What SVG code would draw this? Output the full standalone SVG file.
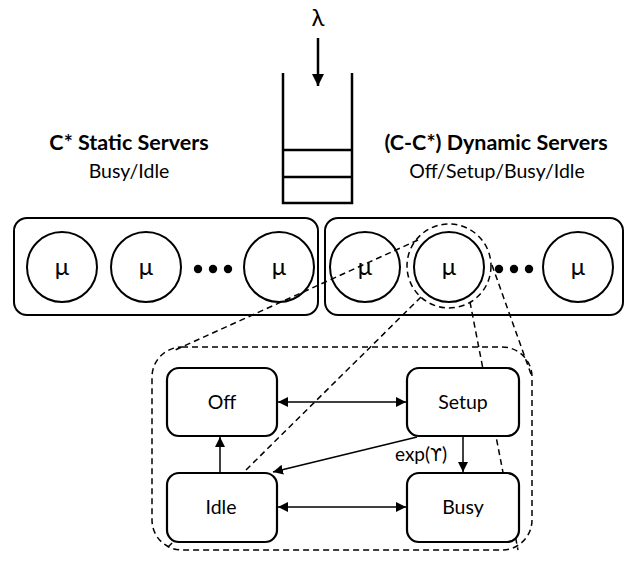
<svg xmlns="http://www.w3.org/2000/svg" width="631" height="561" viewBox="0 0 631 561">
  <style>
    .txt { font-family: Lato, "Liberation Sans", sans-serif; fill: #000; text-anchor: middle; }
    .title { font-size: 21.5px; font-weight: bold; }
    .sub { font-size: 19.5px; }
    .mu { font-size: 24px; }
    .state { font-size: 19.5px; }
    .box { fill: none; stroke: #000; stroke-width: 2; }
    .srv { fill: none; stroke: #000; stroke-width: 2; }
    .stbox { fill: #fff; stroke: #000; stroke-width: 2.2; }
    .dash { fill: none; stroke: #000; stroke-width: 1.5; stroke-dasharray: 6 4; }
    .edge { fill: none; stroke: #000; stroke-width: 1.5; }
    .queue { fill: none; stroke: #000; stroke-width: 2.5; }
  </style>
  <defs>
    <marker id="arr" viewBox="0 0 10 10" refX="10" refY="5" markerWidth="10" markerHeight="10" markerUnits="userSpaceOnUse" orient="auto-start-reverse">
      <path d="M0,0 L10,5 L0,10 z" fill="#000"/>
    </marker>
    <marker id="arrBig" viewBox="0 0 12 12" refX="12" refY="6" markerWidth="12" markerHeight="12" markerUnits="userSpaceOnUse" orient="auto">
      <path d="M0,0 L12,6 L0,12 z" fill="#000"/>
    </marker>
  </defs>

  <!-- arrival stream and queue -->
  <g id="arrival">
    <text class="txt" x="318" y="26" font-size="24">λ</text>
    <line x1="318" y1="38" x2="318" y2="86" stroke="#000" stroke-width="2.5" marker-end="url(#arrBig)"/>
  </g>
  <g id="queue">
    <path class="queue" d="M283,73 V203 H352 V73"/>
    <line class="queue" x1="283" y1="150" x2="352" y2="150"/>
    <line class="queue" x1="283" y1="177" x2="352" y2="177"/>
  </g>

  <!-- group headings -->
  <g id="static-label">
    <text class="txt title" x="129" y="150">C* Static Servers</text>
    <text class="txt sub" x="129" y="178">Busy/Idle</text>
  </g>
  <g id="dynamic-label">
    <text class="txt title" x="496" y="150">(C-C*) Dynamic Servers</text>
    <text class="txt sub" x="497" y="178">Off/Setup/Busy/Idle</text>
  </g>

  <!-- static server pool -->
  <g id="static-pool">
    <rect class="box" x="14" y="218" width="304" height="97" rx="13"/>
    <circle class="srv" cx="62" cy="267" r="35"/>
    <text class="txt mu" x="62" y="275">μ</text>
    <circle class="srv" cx="146" cy="267" r="35"/>
    <text class="txt mu" x="146" y="275">μ</text>
    <circle cx="198" cy="269" r="4.2"/>
    <circle cx="213" cy="269" r="4.2"/>
    <circle cx="228" cy="269" r="4.2"/>
    <circle class="srv" cx="279" cy="267" r="35"/>
    <text class="txt mu" x="279" y="275">μ</text>
  </g>

  <!-- dynamic server pool -->
  <g id="dynamic-pool">
    <rect class="box" x="325" y="218" width="298" height="97" rx="13"/>
    <circle class="srv" cx="365" cy="267" r="35"/>
    <text class="txt mu" x="365" y="275">μ</text>
    <circle class="srv" cx="449" cy="267" r="35"/>
    <text class="txt mu" x="449" y="275">μ</text>
    <circle cx="499" cy="269" r="4.2"/>
    <circle cx="514" cy="269" r="4.2"/>
    <circle cx="529" cy="269" r="4.2"/>
    <circle class="srv" cx="578" cy="267" r="35"/>
    <text class="txt mu" x="578" y="275">μ</text>
  </g>

  <!-- magnified server: highlight ring, projection lines and enclosure -->
  <g id="zoom">
    <circle class="dash" cx="449" cy="266" r="42"/>
    <line class="dash" x1="418" y1="240" x2="173" y2="351"/>
    <line class="dash" x1="421" y1="297" x2="166" y2="549"/>
    <line class="dash" x1="470" y1="302" x2="518" y2="550"/>
    <line class="dash" x1="492" y1="265" x2="532" y2="377"/>
    <rect class="dash" x="152" y="347" width="380" height="203" rx="30"/>
  </g>

  <!-- state machine nodes -->
  <g id="state-off">
    <rect class="stbox" x="167" y="368" width="110" height="68" rx="12"/>
    <text class="txt state" x="222" y="409">Off</text>
  </g>
  <g id="state-setup">
    <rect class="stbox" x="407" y="368" width="112" height="68" rx="12"/>
    <text class="txt state" x="463" y="409">Setup</text>
  </g>
  <g id="state-idle">
    <rect class="stbox" x="167" y="473" width="110" height="69" rx="12"/>
    <text class="txt state" x="221" y="514">Idle</text>
  </g>
  <g id="state-busy">
    <rect class="stbox" x="407" y="473" width="112" height="69" rx="12"/>
    <text class="txt state" x="463" y="514">Busy</text>
  </g>

  <!-- transitions -->
  <g id="connectors">
    <line class="edge" x1="278" y1="402" x2="406" y2="402" marker-start="url(#arr)" marker-end="url(#arr)"/>
    <line class="edge" x1="278" y1="507" x2="406" y2="507" marker-start="url(#arr)" marker-end="url(#arr)"/>
    <line class="edge" x1="220" y1="473" x2="220" y2="437" marker-end="url(#arr)"/>
    <line class="edge" x1="463" y1="437" x2="463" y2="472" marker-end="url(#arr)"/>
    <line class="edge" x1="417" y1="437" x2="273" y2="472" marker-end="url(#arr)"/>
    <text class="txt" x="421" y="461" font-size="19">exp(<tspan font-family="'DejaVu Sans', sans-serif" font-size="17">ϒ</tspan>)</text>
  </g>
</svg>
